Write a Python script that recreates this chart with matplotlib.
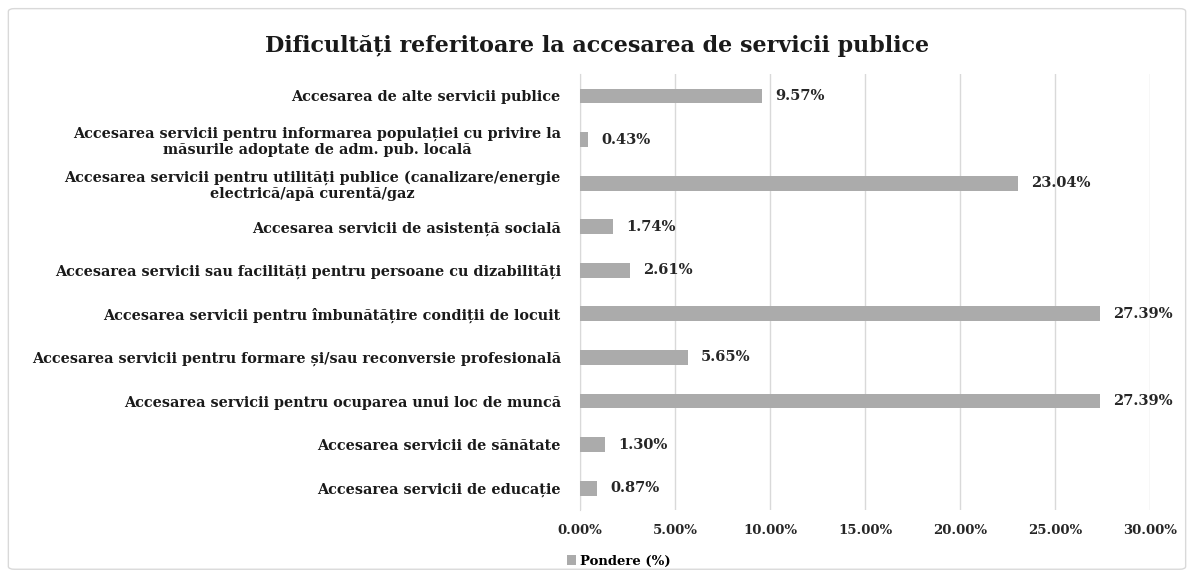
import matplotlib.pyplot as plt
from matplotlib.patches import FancyBboxPatch

categories = [
    "Accesarea de alte servicii publice",
    "Accesarea servicii pentru informarea populației cu privire la\nmăsurile adoptate de adm. pub. locală",
    "Accesarea servicii pentru utilități publice (canalizare/energie\nelectrică/apă curentă/gaz",
    "Accesarea servicii de asistență socială",
    "Accesarea servicii sau facilități pentru persoane cu dizabilități",
    "Accesarea servicii pentru îmbunătățire condiții de locuit",
    "Accesarea servicii pentru formare și/sau reconversie profesională",
    "Accesarea servicii pentru ocuparea unui loc de muncă",
    "Accesarea servicii de sănătate",
    "Accesarea servicii de educație",
]
values = [9.57, 0.43, 23.04, 1.74, 2.61, 27.39, 5.65, 27.39, 1.30, 0.87]
xticks = [0, 5, 10, 15, 20, 25, 30]

plt.rcParams['font.family'] = ['DejaVu Serif', 'Liberation Serif']
plt.rcParams['font.weight'] = 'bold'

fig = plt.figure(figsize=(11.94, 5.75), dpi=100)
ax = fig.add_axes([0.486, 0.113, 0.477, 0.758])

# light frame round the whole chart
fig.patches.append(FancyBboxPatch((0.007, 0.01), 0.986, 0.975,
                                  boxstyle="round,pad=0,rounding_size=0.005",
                                  transform=fig.transFigure, fill=False,
                                  edgecolor='#d9d9d9', linewidth=1))

ypos = list(range(len(categories)))
bar_color = '#ababab'
ax.barh(ypos, values, height=0.34, color=bar_color, label='Pondere (%)', zorder=3)

for y, v in zip(ypos, values):
    ax.text(v + 0.7, y, f"{v:.2f}%", va='center', ha='left',
            fontsize=10.5, fontweight='bold', color='#262626')

ax.set_ylim(len(categories) - 0.5, -0.5)
ax.set_xlim(0, 30)
ax.set_xticks(xticks)
ax.set_xticklabels([f"{t:.2f}%" for t in xticks], fontsize=9.5, fontweight='bold', color='#262626')
ax.set_yticks(ypos)
ax.set_yticklabels(categories, fontsize=10.4, fontweight='bold', color='#1a1a1a')
for lbl in ax.get_yticklabels():
    lbl.set_multialignment('center')

ax.grid(axis='x', color='#d9d9d9', linewidth=1, zorder=0)
for s in ['top', 'right', 'bottom']:
    ax.spines[s].set_visible(False)
ax.spines['left'].set_color('#d9d9d9')
ax.tick_params(axis='both', length=0)
ax.tick_params(axis='y', pad=14)
ax.tick_params(axis='x', pad=10)

fig.text(0.5, 0.92, "Dificultăți referitoare la accesarea de servicii publice",
         ha='center', va='center', fontsize=16, fontweight='bold', color='#1a1a1a')

leg = ax.legend(loc='upper left', bbox_to_anchor=(-0.045, -0.075), frameon=False,
                fontsize=9.5, handlelength=0.7, handleheight=0.7, handletextpad=0.3)
for t in leg.get_texts():
    t.set_fontweight('bold')

fig.savefig('out.png', dpi=100, facecolor='white')
